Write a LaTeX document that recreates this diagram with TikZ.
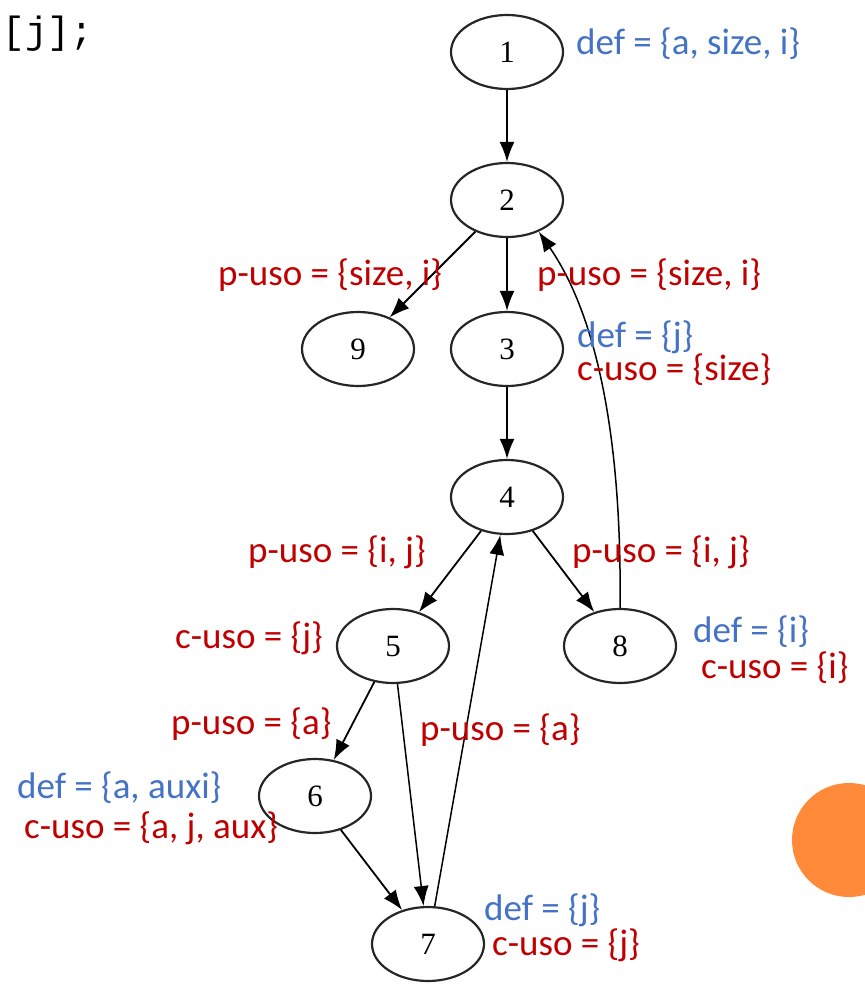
\documentclass[tikz,border=0pt]{standalone}
\usepackage{fontspec}
\setmainfont{Carlito}
\newfontfamily\numfont{Liberation Serif}
\newfontfamily\codefont{Liberation Mono}
\usetikzlibrary{shapes.geometric,arrows.meta}
\definecolor{lblue}{HTML}{4472C4}
\definecolor{lred}{HTML}{C00000}
\definecolor{dotorange}{HTML}{FF8A3A}
\begin{document}
\begin{tikzpicture}[x=1pt,y=-1pt,
  vnode/.style={ellipse,draw=black!85,line width=2.2pt,minimum width=112pt,minimum height=74pt,inner sep=0pt,font=\numfont\fontsize{31}{33}\selectfont},
  edge/.style={line width=1.8pt,-{Latex[length=20pt,width=15pt]}},
  thinedge/.style={line width=1.5pt,-{Latex[length=20pt,width=15pt]}},
  deflbl/.style={anchor=west,inner sep=0pt,text=lblue,font=\fontsize{37}{39}\selectfont},
  uselbl/.style={anchor=west,inner sep=0pt,text=lred,font=\fontsize{37}{39}\selectfont}]
\useasboundingbox (0,0) rectangle (864,987);
\fill[dotorange] (849,840) circle (57);
\node[anchor=west,inner sep=0pt,font=\codefont\fontsize{38}{40}\selectfont] (code) at (2,34) {[j];};
\node[vnode] (n1) at (507,52) {1};
\node[vnode] (n2) at (507,200) {2};
\node[vnode] (n9) at (358,349) {9};
\node[vnode] (n3) at (507,349) {3};
\node[vnode] (n4) at (507,497) {4};
\node[vnode] (n5) at (393,646) {5};
\node[vnode] (n8) at (620,646) {8};
\node[vnode] (n6) at (315,796) {6};
\node[vnode] (n7) at (428,944) {7};
\draw[edge] (n1) -- (n2);
\draw[edge] (n2) -- (n9);
\draw[edge] (n2) -- (n3);
\draw[edge] (n3) -- (n4);
\draw[edge] (n4) -- (n5);
\draw[edge] (n4) -- (n8);
\draw[edge] (n5) -- (n6);
\draw[thinedge] (n5) -- (n7);
\draw[edge] (n6) -- (n7);
\draw[thinedge] (n7) -- (n4);
\draw[thinedge] (n8.north) .. controls (622,450) and (600,320) .. (n2.-45);
\node[deflbl] (l1) at (576,44) {def = \{a, size, i\}};
\node[uselbl] (l2) at (218,275) {p-uso = \{size, i\}};
\node[uselbl] (l3) at (537,275) {p-uso = \{size, i\}};
\node[deflbl] (l4) at (577,337) {def = \{j\}};
\node[uselbl] (l5) at (577,370) {c-uso = \{size\}};
\node[uselbl] (l6) at (248,552) {p-uso = \{i, j\}};
\node[uselbl] (l7) at (572,552) {p-uso = \{i, j\}};
\node[uselbl] (l8) at (175,638) {c-uso = \{j\}};
\node[deflbl] (l9) at (693,632) {def = \{i\}};
\node[uselbl] (l10) at (701,668) {c-uso = \{i\}};
\node[uselbl] (l11) at (171,724) {p-uso = \{a\}};
\node[uselbl] (l12) at (420,730) {p-uso = \{a\}};
\node[deflbl] (l13) at (17,788) {def = \{a, auxi\}};
\node[uselbl] (l14) at (24,828) {c-uso = \{a, j, aux\}};
\node[deflbl] (l15) at (484,910) {def = \{j\}};
\node[uselbl] (l16) at (492,945) {c-uso = \{j\}};
\end{tikzpicture}
\end{document}
